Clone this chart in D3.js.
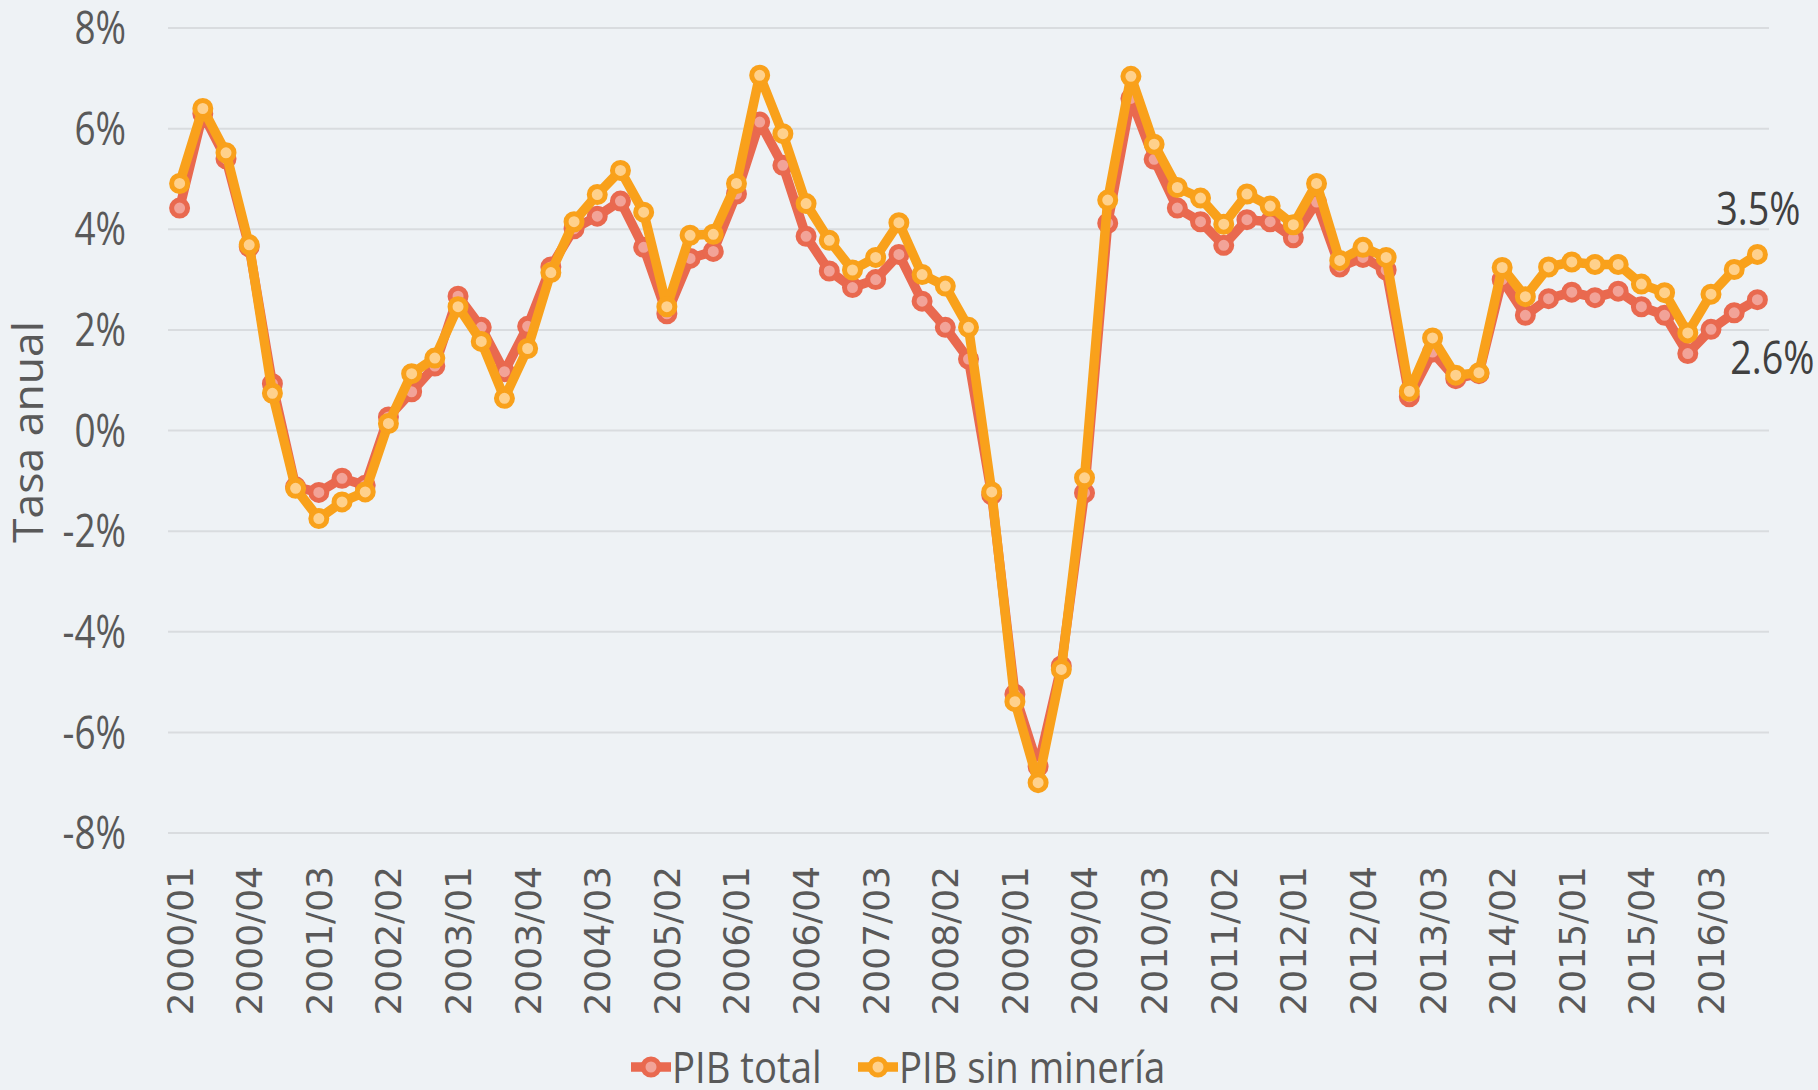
<!DOCTYPE html>
<html>
<head>
<meta charset="utf-8">
<script src="https://d3js.org/d3.v7.min.js"></script>
<style>
  html, body { margin: 0; padding: 0; background: #eef2f5; }
  svg { display: block; }
</style>
</head>
<body>
<script>
  // quarters 2000/01 .. 2017/01
  var categories = [
    "2000/01","2000/02","2000/03","2000/04","2001/01","2001/02","2001/03","2001/04",
    "2002/01","2002/02","2002/03","2002/04","2003/01","2003/02","2003/03","2003/04",
    "2004/01","2004/02","2004/03","2004/04","2005/01","2005/02","2005/03","2005/04",
    "2006/01","2006/02","2006/03","2006/04","2007/01","2007/02","2007/03","2007/04",
    "2008/01","2008/02","2008/03","2008/04","2009/01","2009/02","2009/03","2009/04",
    "2010/01","2010/02","2010/03","2010/04","2011/01","2011/02","2011/03","2011/04",
    "2012/01","2012/02","2012/03","2012/04","2013/01","2013/02","2013/03","2013/04",
    "2014/01","2014/02","2014/03","2014/04","2015/01","2015/02","2015/03","2015/04",
    "2016/01","2016/02","2016/03","2016/04","2017/01"
  ];

  var xTickLabels = [
    "2000/01","2000/04","2001/03","2002/02","2003/01","2003/04","2004/03","2005/02",
    "2006/01","2006/04","2007/03","2008/02","2009/01","2009/04","2010/03","2011/02",
    "2012/01","2012/04","2013/03","2014/02","2015/01","2015/04","2016/03"
  ];

  var yTicks = [-8, -6, -4, -2, 0, 2, 4, 6, 8];

  // PIB total (%)
  var pibTotal = [
    4.42, 6.30, 5.40, 3.65, 0.93, -1.12, -1.23, -0.95, -1.09, 0.27, 0.77, 1.28,
    2.67, 2.05, 1.17, 2.07, 3.25, 4.01, 4.26, 4.56, 3.64, 2.32, 3.42, 3.56,
    4.70, 6.13, 5.27, 3.86, 3.17, 2.84, 3.00, 3.50, 2.57, 2.05, 1.42, -1.28,
    -5.24, -6.68, -4.68, -1.24, 4.12, 6.60, 5.39, 4.42, 4.15, 3.68, 4.19, 4.15,
    3.83, 4.54, 3.25, 3.44, 3.19, 0.67, 1.56, 1.03, 1.13, 3.00, 2.29, 2.62,
    2.75, 2.64, 2.77, 2.46, 2.29, 1.53, 2.01, 2.34, 2.6
  ];

  // PIB sin mineria (%)
  var pibSinMineria = [
    4.91, 6.40, 5.52, 3.69, 0.74, -1.15, -1.75, -1.42, -1.22, 0.14, 1.13, 1.44,
    2.46, 1.77, 0.64, 1.63, 3.14, 4.15, 4.69, 5.17, 4.34, 2.46, 3.88, 3.90,
    4.91, 7.06, 5.90, 4.51, 3.78, 3.19, 3.44, 4.13, 3.10, 2.87, 2.05, -1.22,
    -5.39, -7.00, -4.75, -0.94, 4.58, 7.04, 5.69, 4.83, 4.62, 4.10, 4.70, 4.46,
    4.09, 4.91, 3.38, 3.64, 3.44, 0.78, 1.84, 1.10, 1.15, 3.24, 2.66, 3.25,
    3.35, 3.30, 3.30, 2.91, 2.74, 1.94, 2.71, 3.20, 3.5
  ];

  var seriesNames = ["PIB total", "PIB sin minería"];

  var W = 1818, H = 1090;
  var plotLeft = 168, plotRight = 1769, plotTop = 28, plotBottom = 833;

  var svg = d3.select("body").append("svg")
    .attr("width", W)
    .attr("height", H);

  svg.append("rect").attr("width", W).attr("height", H).attr("fill", "#eef2f5");

  var x = d3.scalePoint().domain(categories).range([plotLeft, plotRight]).padding(0.5);
  var y = d3.scaleLinear().domain([-8, 8]).range([plotBottom, plotTop]);

  // gridlines
  svg.append("g")
    .selectAll("line")
    .data(yTicks)
    .enter().append("line")
    .attr("x1", plotLeft).attr("x2", plotRight)
    .attr("y1", function(d) { return y(d); })
    .attr("y2", function(d) { return y(d); })
    .attr("stroke", "#d9dcdf")
    .attr("stroke-width", 2);

  // y tick labels (narrow look)
  svg.append("g")
    .selectAll("text")
    .data(yTicks)
    .enter().append("text")
    .attr("transform", function(d) { return "translate(126," + y(d) + ") scale(0.82,1)"; })
    .attr("text-anchor", "end")
    .attr("dy", "0.36em")
    .style("font-family", "'Open Sans', sans-serif")
    .style("font-size", "45px")
    .style("fill", "#595959")
    .text(function(d) { return d + "%"; });

  // y axis title
  svg.append("text")
    .attr("transform", "translate(43,432) rotate(-90) scale(1.06,1)")
    .attr("text-anchor", "middle")
    .style("font-family", "'Open Sans', sans-serif")
    .style("font-size", "42px")
    .style("fill", "#595959")
    .text("Tasa anual");

  // x tick labels
  svg.append("g")
    .selectAll("text")
    .data(xTickLabels)
    .enter().append("text")
    .attr("transform", function(d) { return "translate(" + x(d) + ",866) rotate(-90)"; })
    .attr("text-anchor", "end")
    .attr("dy", "0.36em")
    .style("font-family", "'DejaVu Sans', sans-serif")
    .style("font-size", "36px")
    .style("fill", "#595959")
    .text(function(d) { return d; });

  var line = d3.line()
    .x(function(d, i) { return x(categories[i]); })
    .y(function(d) { return y(d); });

  var styles = [
    { line: "#e9694f", fill: "#f2a398" },
    { line: "#f9a11b", fill: "#ffd18c" }
  ];

  [pibTotal, pibSinMineria].forEach(function(values, k) {
    var g = svg.append("g");
    g.append("path")
      .datum(values)
      .attr("d", line)
      .attr("fill", "none")
      .attr("stroke", styles[k].line)
      .attr("stroke-width", 9.5)
      .attr("stroke-linejoin", "round");
    g.selectAll("circle")
      .data(values)
      .enter().append("circle")
      .attr("cx", function(d, i) { return x(categories[i]); })
      .attr("cy", function(d) { return y(d); })
      .attr("r", 8)
      .attr("fill", styles[k].fill)
      .attr("stroke", styles[k].line)
      .attr("stroke-width", 5);
  });

  // end labels
  var last = categories.length - 1;
  var fmt = d3.format(".1f");
  svg.append("text")
    .attr("transform", "translate(" + (x(categories[last]) + 1) + "," + (y(pibSinMineria[last]) - 29) + ") scale(0.82,1)")
    .attr("text-anchor", "middle")
    .style("font-family", "'Open Sans', sans-serif")
    .style("font-size", "46px")
    .style("fill", "#404040")
    .text(fmt(pibSinMineria[last]) + "%");
  svg.append("text")
    .attr("transform", "translate(" + (x(categories[last]) + 15) + "," + (y(pibTotal[last]) + 74) + ") scale(0.82,1)")
    .attr("text-anchor", "middle")
    .style("font-family", "'Open Sans', sans-serif")
    .style("font-size", "46px")
    .style("fill", "#404040")
    .text(fmt(pibTotal[last]) + "%");

  // legend
  var legendX = [631, 858];
  var legend = svg.append("g");
  seriesNames.forEach(function(name, k) {
    var lx = legendX[k], ly = 1067;
    legend.append("line")
      .attr("x1", lx).attr("x2", lx + 40)
      .attr("y1", ly).attr("y2", ly)
      .attr("stroke", styles[k].line)
      .attr("stroke-width", 9.5);
    legend.append("circle")
      .attr("cx", lx + 20).attr("cy", ly)
      .attr("r", 8)
      .attr("fill", styles[k].fill)
      .attr("stroke", styles[k].line)
      .attr("stroke-width", 5);
    legend.append("text")
      .attr("transform", "translate(" + (lx + 41) + ",1083) scale(0.87,1)")
      .style("font-family", "'Open Sans', sans-serif")
      .style("font-size", "44px")
      .style("fill", "#595959")
      .text(name);
  });
</script>
</body>
</html>
